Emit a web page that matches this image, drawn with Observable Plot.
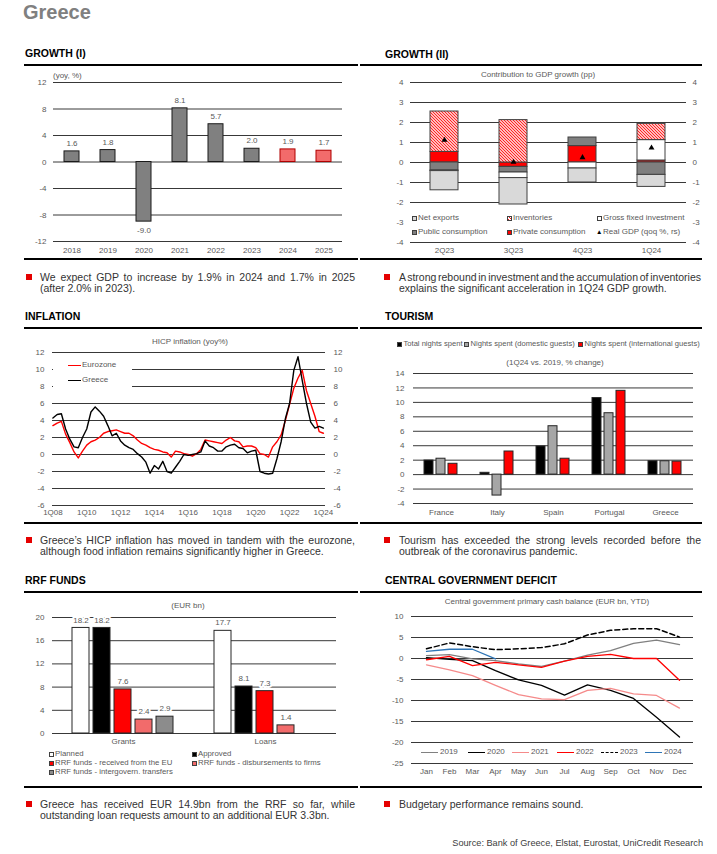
<!DOCTYPE html>
<html><head><meta charset="utf-8">
<script src="https://cdn.jsdelivr.net/npm/d3@7"></script>
<script src="https://cdn.jsdelivr.net/npm/@observablehq/plot@0.6"></script>
<style>
body{margin:0;background:#fff;}
#page{position:relative;width:717px;height:854px;overflow:hidden;font-family:Arial,"Liberation Sans",sans-serif;background:#fff;}
</style></head><body><div id="page"></div>
<script>
// ---------------- DATA ----------------
const gdpYears = ["2018","2019","2020","2021","2022","2023","2024","2025"];
const gdpGrowth = [1.6, 1.8, -9.0, 8.1, 5.7, 2.0, 1.9, 1.7];
const gdpForecastYears = ["2024","2025"];
const gdpTicks = [-12,-8,-4,0,4,8,12];

const contribQuarters = ["2Q23","3Q23","4Q23","1Q24"];
const contribNames = ["Private consumption","Public consumption","Gross fixed investment","Inventories","Net exports"];
const privateConsumption = [0.53,-0.22,0.82,0.10];
const publicConsumption = [-0.40,-0.28,0.43,-0.62];
const grossFixedInvestment = [-0.03,-0.28,-0.30,1.02];
const inventories = [2.02,2.12,0,0.81];
const netExports = [-0.96,-1.32,-0.70,-0.60];
const realGdpQoq = [1.12,0.02,0.25,0.73];
const contribTicks = [-4,-3,-2,-1,0,1,2,3,4];
const contribGrid = [-4,-2,-1,0,1,2,3,4];

const hicpTickLabels = ["1Q08","1Q10","1Q12","1Q14","1Q16","1Q18","1Q20","1Q22","1Q24"];
const hicpGreece = [4.3,4.7,4.8,3.0,1.8,0.9,0.8,2.0,3.0,5.0,5.6,5.1,4.5,3.4,2.2,2.5,
  1.6,1.1,0.8,0.6,0.1,-0.3,-0.9,-2.2,-1.3,-1.7,-0.8,-2.0,-2.2,-1.5,-0.8,0.0,
  -0.1,0.0,0.1,0.3,1.6,1.0,0.8,0.4,0.4,0.9,1.1,1.2,0.8,0.7,0.2,0.4,
  0.5,-2.0,-2.2,-2.3,-2.2,-0.5,1.5,4.2,6.0,9.9,11.5,8.7,6.0,3.8,3.1,3.3,3.1];
const hicpEurozone = [3.4,3.7,3.9,2.4,1.4,0.3,-0.4,0.4,1.1,1.5,1.7,2.0,2.5,2.7,2.8,2.9,
  2.7,2.5,2.5,2.2,1.7,1.3,1.1,0.8,0.6,0.5,0.3,0.2,-0.3,0.4,0.3,0.1,
  0.0,-0.2,0.1,0.6,1.7,1.6,1.5,1.4,1.3,1.7,2.0,1.6,1.5,0.9,1.0,1.0,
  0.8,0.1,0.0,-0.3,0.9,1.5,2.3,4.0,5.9,7.8,9.0,9.9,7.5,6.0,4.5,2.7,2.5];
const hicpTicks = [-6,-4,-2,0,2,4,6,8,10,12];

const tourCountries = ["France","Italy","Spain","Portugal","Greece"];
const tourSeries = ["Total nights spent","Nights spent (domestic guests)","Nights spent (international guests)"];
const totalNights = [1.95,0.25,3.9,10.6,1.85];
const domesticNights = [2.2,-2.9,6.7,8.5,1.85];
const internationalNights = [1.5,3.2,2.2,11.6,1.8];
const tourTicks = [-4,-2,0,2,4,6,8,10,12,14];

const rrfCategories = ["Grants","Loans"];
const rrfSeries = ["Planned","Approved","RRF funds - received from the EU","RRF funds - disbursements to firms","RRF funds - intergovern. transfers"];
const rrfGrants = [18.2,18.2,7.6,2.4,2.9];
const rrfLoans = [17.7,8.1,7.3,1.4];
const rrfTicks = [0,4,8,12,16,20];

const months = ["Jan","Feb","Mar","Apr","May","Jun","Jul","Aug","Sep","Oct","Nov","Dec"];
const balance2019 = [0.7,0.9,-0.1,-0.5,-1.3,-1.9,-0.6,0.8,1.9,3.6,4.4,3.3];
const balance2020 = [0.2,-0.2,-0.5,-2.9,-5.1,-6.4,-8.7,-6.3,-7.6,-9.5,-14.0,-18.7];
const balance2021 = [-1.5,-2.7,-4.1,-6.4,-8.6,-9.6,-9.8,-7.6,-7.1,-8.4,-8.8,-11.8];
const balance2022 = [-0.3,0.5,-1.7,-0.9,-1.5,-2.1,-0.6,0.5,1.0,0.0,0.0,-5.2];
const balance2023 = [2.3,3.7,2.8,2.1,2.3,2.6,3.5,5.6,6.7,7.1,7.1,5.1];
const balance2024 = [1.7,2.2,2.2,-0.1];
const balanceTicks = [-25,-20,-15,-10,-5,0,5,10];

// ---------------- HELPERS ----------------
const page = document.getElementById("page");
const FONT = "Arial, 'Liberation Sans', sans-serif";
const GRID = "#383838";
const LBL = "#595959";
const baseStyle = {fontFamily: FONT, fontSize: "8px", color: LBL, background: "transparent", overflow: "visible"};
const fmtTick = d => String(d);

function el(css, html) {
  const e = document.createElement("div");
  e.style.cssText = "position:absolute;" + css;
  if (html != null) e.innerHTML = html;
  page.appendChild(e);
  return e;
}
function txt(x, y, s, css = "") {
  return el(`left:${x}px;top:${y}px;transform:translateY(-50%);white-space:nowrap;line-height:1;${css}`, s);
}
function ctxt(x, y, s, css = "") {
  return el(`left:${x}px;top:${y}px;transform:translate(-50%,-50%);white-space:nowrap;line-height:1;${css}`, s);
}
function place(svg, left, top, w, h) {
  const d = el(`left:${left}px;top:${top}px;width:${w}px;height:${h}px;`);
  d.appendChild(svg);
  return d;
}
function swatch(x, y, bg, size = 5, border = "#404040") {
  return el(`left:${x}px;top:${y - size / 2}px;width:${size}px;height:${size}px;box-sizing:border-box;border:1px solid ${border};background:${bg};`);
}
function panel(lineX1, lineX2, titleX, titleY, topY, bottomY, title) {
  txt(titleX, titleY, title, "font-weight:bold;font-size:10.5px;color:#000;");
  el(`left:${lineX1}px;top:${topY}px;width:${lineX2 - lineX1}px;height:2px;background:#000;`);
  el(`left:${lineX1}px;top:${bottomY}px;width:${lineX2 - lineX1}px;height:2px;background:#000;`);
}
function bullet(sqX, textX, width, y, lines) {
  el(`left:${sqX}px;top:${y - 3}px;width:6px;height:6px;background:#e50000;`);
  lines.forEach((line, i) => {
    const last = i === lines.length - 1;
    const d = el(`left:${textX}px;top:${y + i * 11.3 - 6}px;height:12px;line-height:12px;font-size:10.5px;color:#333;white-space:nowrap;`);
    const span = document.createElement("span");
    span.textContent = line;
    d.appendChild(span);
    if (!last) {
      const natural = span.getBoundingClientRect().width;
      const spaces = (line.match(/ /g) || []).length;
      if (spaces > 0) span.style.wordSpacing = ((width - natural) / spaces) + "px";
    }
  });
}

// ---------------- PAGE TEXT ----------------
txt(23, 12, "Greece", "font-weight:bold;font-size:20px;color:#808080;");
panel(24, 358, 25, 53, 64, 258, "GROWTH (I)");
panel(360, 702, 385, 54, 64, 258, "GROWTH (II)");
panel(24, 358, 25, 316, 327, 522, "INFLATION");
panel(360, 702, 385, 316, 327, 522, "TOURISM");
panel(24, 358, 25, 580, 591, 786, "RRF FUNDS");
panel(360, 702, 385, 580, 591, 786, "CENTRAL GOVERNMENT DEFICIT");

// ---------------- CHART 1: GROWTH (I) ----------------
const gdpData = gdpYears.map((y, i) => ({year: y, value: gdpGrowth[i], forecast: gdpForecastYears.includes(y)}));
const c1 = Plot.plot({
  width: 334, height: 192, marginLeft: 29, marginRight: 16, marginTop: 16, marginBottom: 17,
  style: baseStyle,
  x: {domain: gdpYears, paddingInner: 0.58, paddingOuter: 0.29},
  y: {domain: [-12, 12]},
  color: {type: "identity"},
  marks: [
    Plot.ruleY(gdpTicks, {stroke: GRID, strokeWidth: 1}),
    Plot.barY(gdpData, {x: "year", y: "value", fill: d => d.forecast ? "#f26b6b" : "#808080", stroke: d => d.forecast ? "#b00000" : "#1a1a1a", strokeWidth: 1}),
    Plot.text(gdpData, {filter: d => d.value >= 0, x: "year", y: "value", text: d => d.value.toFixed(1), dy: -8, fill: LBL, stroke: "white", strokeWidth: 4}),
    Plot.text(gdpData, {filter: d => d.value < 0, x: "year", y: "value", text: d => d.value.toFixed(1), dy: 9, fill: LBL, stroke: "white", strokeWidth: 4}),
    Plot.axisY({ticks: gdpTicks, tickSize: 0, tickPadding: 7, tickFormat: fmtTick, label: null}),
    Plot.axisX({tickSize: 0, tickPadding: 6, label: null})
  ]
});
place(c1, 24, 66, 334, 192);
txt(53, 76, "(yoy, %)", `font-size:8px;color:${LBL};`);

// ---------------- CHART 2: GROWTH (II) ----------------
const contribValues = [privateConsumption, publicConsumption, grossFixedInvestment, inventories, netExports];
const contribColor = {
  "Private consumption": "#ff0000",
  "Public consumption": "#7f7f7f",
  "Gross fixed investment": "#ffffff",
  "Inventories": "url(#hatchInv)",
  "Net exports": "#d9d9d9"
};
const contribData = [];
contribNames.forEach((name, k) => contribQuarters.forEach((q, i) => contribData.push({q, comp: name, value: contribValues[k][i]})));
const realGdpData = contribQuarters.map((q, i) => ({q, value: realGdpQoq[i]}));
const c2 = Plot.plot({
  width: 342, height: 192, marginLeft: 50, marginRight: 16, marginTop: 16, marginBottom: 16,
  style: baseStyle,
  x: {domain: contribQuarters, paddingInner: 0.59, paddingOuter: 0.295},
  y: {domain: [-4, 4]},
  color: {type: "identity"},
  marks: [
    Plot.ruleY(contribGrid, {stroke: GRID, strokeWidth: 1}),
    Plot.barY(contribData, {filter: d => d.value !== 0, x: "q", y: "value", fill: d => contribColor[d.comp], stroke: "#404040", strokeWidth: 1}),
    Plot.dot(realGdpData, {x: "q", y: "value", symbol: "triangle", r: 2.2, fill: "#000", stroke: null}),
    Plot.axisY({ticks: contribTicks, anchor: "left", tickSize: 0, tickPadding: 7, tickFormat: fmtTick, label: null}),
    Plot.axisY({ticks: contribTicks, anchor: "right", tickSize: 0, tickPadding: 6, tickFormat: fmtTick, label: null}),
    Plot.axisX({tickSize: 0, tickPadding: 5, label: null})
  ]
});
{
  const defs = d3.select(c2).insert("defs", ":first-child");
  const pat = defs.append("pattern").attr("id", "hatchInv").attr("patternUnits", "userSpaceOnUse").attr("width", 3).attr("height", 3);
  pat.append("rect").attr("width", 3).attr("height", 3).attr("fill", "#fff");
  pat.append("path").attr("d", "M-1,-1L4,4M-1,2L1,4M2,-1L4,1").attr("stroke", "#ff1a1a").attr("stroke-width", 1.1);
}
place(c2, 360, 66, 342, 192);
ctxt(538, 75, "Contribution to GDP growth (pp)", `font-size:8px;color:${LBL};`);
const hatchCss = "repeating-linear-gradient(45deg,#ff1a1a 0 1px,#fff 1px 2.2px)";
[["Net exports", "#d9d9d9", 412, 218], ["Inventories", hatchCss, 507, 218], ["Gross fixed investment", "#fff", 597, 218],
 ["Public consumption", "#7f7f7f", 412, 232], ["Private consumption", "#ff0000", 507, 232]].forEach(([name, bg, x, y]) => {
  swatch(x, y, bg);
  txt(x + 6, y, name, `font-size:8px;color:${LBL};`);
});
txt(596, 232, "&#9650;", "font-size:6.5px;color:#000;");
txt(603, 232, "Real GDP (qoq %, rs)", `font-size:8px;color:${LBL};`);

// ---------------- CHART 3: INFLATION ----------------
const hicpIndex = hicpGreece.map((_, i) => i);
const c3 = Plot.plot({
  width: 334, height: 192, marginLeft: 28, marginRight: 33, marginTop: 23, marginBottom: 16,
  style: baseStyle,
  x: {domain: [-0.1, 64.5]},
  y: {domain: [-6, 12]},
  marks: [
    Plot.ruleY(hicpTicks, {stroke: GRID, strokeWidth: 1}),
    Plot.lineY(hicpEurozone, {x: hicpIndex, y: hicpEurozone, stroke: "#ff0000", strokeWidth: 1.4}),
    Plot.lineY(hicpGreece, {x: hicpIndex, y: hicpGreece, stroke: "#000", strokeWidth: 1.4}),
    Plot.axisY({ticks: hicpTicks, anchor: "left", tickSize: 0, tickPadding: 8, tickFormat: fmtTick, label: null}),
    Plot.axisY({ticks: hicpTicks, anchor: "right", tickSize: 0, tickPadding: 8, tickFormat: fmtTick, label: null}),
    Plot.axisX({ticks: hicpTickLabels.map((_, i) => i * 8), tickFormat: d => hicpTickLabels[d / 8], tickSize: 0, tickPadding: 4, label: null})
  ]
});
place(c3, 24, 329, 334, 192);
ctxt(190, 342, "HICP inflation (yoy%)", `font-size:8px;color:${LBL};`);
el("left:53px;top:357px;width:79px;height:32px;background:#fff;");
el("left:68px;top:364.5px;width:13px;height:1.4px;background:#ff0000;");
txt(82, 365, "Eurozone", `font-size:8px;color:${LBL};`);
el("left:68px;top:379.5px;width:13px;height:1.4px;background:#000;");
txt(82, 380, "Greece", `font-size:8px;color:${LBL};`);

// ---------------- CHART 4: TOURISM ----------------
const tourValues = [totalNights, domesticNights, internationalNights];
const tourColor = {[tourSeries[0]]: "#000000", [tourSeries[1]]: "#a6a6a6", [tourSeries[2]]: "#ff0000"};
const tourData = [];
tourCountries.forEach((c, i) => tourSeries.forEach((s, k) => tourData.push({country: c, series: s, value: tourValues[k][i]})));
const c4 = Plot.plot({
  width: 342, height: 192, marginLeft: 51, marginRight: 8, marginTop: 44, marginBottom: 18,
  style: baseStyle,
  fx: {domain: tourCountries, padding: 0, label: null, axis: "bottom", tickSize: 0, tickPadding: 6},
  x: {domain: tourSeries, axis: null, paddingInner: 0.21, paddingOuter: 0.83},
  y: {domain: [-4, 14]},
  color: {type: "identity"},
  marks: [
    Plot.ruleY(tourTicks, {stroke: GRID, strokeWidth: 1}),
    Plot.barY(tourData, {fx: "country", x: "series", y: "value", fill: d => tourColor[d.series], stroke: "#262626", strokeWidth: 1}),
    Plot.axisY({ticks: tourTicks, tickSize: 0, tickPadding: 9, tickFormat: fmtTick, label: null})
  ]
});
place(c4, 360, 329, 342, 192);
[[397, 0, "#000"], [464, 1, "#a6a6a6"], [578, 2, "#ff0000"]].forEach(([x, k, bg]) => {
  swatch(x, 344, bg);
  txt(x + 6.5, 344, tourSeries[k], `font-size:7.6px;color:${LBL};`);
});
ctxt(555, 363, "(1Q24 vs. 2019, % change)", `font-size:8px;color:${LBL};`);

// ---------------- CHART 5: RRF FUNDS ----------------
const rrfColor = {[rrfSeries[0]]: "#ffffff", [rrfSeries[1]]: "#000000", [rrfSeries[2]]: "#ff0000", [rrfSeries[3]]: "#f26b6b", [rrfSeries[4]]: "#8c8c8c"};
const rrfData = [];
rrfGrants.forEach((v, k) => rrfData.push({cat: "Grants", series: rrfSeries[k], value: v}));
rrfLoans.forEach((v, k) => rrfData.push({cat: "Loans", series: rrfSeries[k], value: v}));
const c5 = Plot.plot({
  width: 334, height: 192, marginLeft: 28, marginRight: 22, marginTop: 24, marginBottom: 52,
  style: baseStyle,
  fx: {domain: rrfCategories, padding: 0, label: null, axis: "bottom", tickSize: 0, tickPadding: 5},
  x: {domain: rrfSeries, axis: null, paddingInner: 0.18, paddingOuter: 0.82},
  y: {domain: [0, 20]},
  color: {type: "identity"},
  marks: [
    Plot.ruleY(rrfTicks, {stroke: GRID, strokeWidth: 1}),
    Plot.barY(rrfData, {fx: "cat", x: "series", y: "value", fill: d => rrfColor[d.series], stroke: "#262626", strokeWidth: 1}),
    Plot.text(rrfData, {fx: "cat", x: "series", y: "value", text: d => d.value.toFixed(1), dy: -8, fill: LBL, stroke: "white", strokeWidth: 4}),
    Plot.axisY({ticks: rrfTicks, tickSize: 0, tickPadding: 8, tickFormat: fmtTick, label: null})
  ]
});
place(c5, 24, 593, 334, 192);
ctxt(188, 606, "(EUR bn)", `font-size:8px;color:${LBL};`);
[[49, 754, 0], [192, 754, 1], [49, 763, 2], [192, 763, 3], [49, 772, 4]].forEach(([x, y, k]) => {
  swatch(x, y, rrfColor[rrfSeries[k]]);
  txt(x + 6, y, rrfSeries[k], `font-size:7.8px;color:${LBL};`);
});

// ---------------- CHART 6: DEFICIT ----------------
const balSeries = [
  {year: "2019", values: balance2019, stroke: "#808080", dash: null},
  {year: "2020", values: balance2020, stroke: "#000000", dash: null},
  {year: "2021", values: balance2021, stroke: "#f58a8a", dash: null},
  {year: "2022", values: balance2022, stroke: "#ff0000", dash: null},
  {year: "2023", values: balance2023, stroke: "#000000", dash: "5,3"},
  {year: "2024", values: balance2024, stroke: "#2e75b6", dash: null}
];
const c6 = Plot.plot({
  width: 342, height: 192, marginLeft: 51, marginRight: 9, marginTop: 23, marginBottom: 22,
  style: baseStyle,
  x: {type: "point", domain: months, padding: 0.5},
  y: {domain: [-25, 10]},
  marks: [
    Plot.ruleY(balanceTicks, {stroke: GRID, strokeWidth: 1}),
    ...balSeries.map(s => Plot.lineY(s.values, {x: months.slice(0, s.values.length), y: s.values, stroke: s.stroke, strokeWidth: s.dash ? 1.5 : 1.3, strokeDasharray: s.dash})),
    Plot.axisY({ticks: balanceTicks, tickSize: 0, tickPadding: 8, tickFormat: fmtTick, label: null}),
    Plot.axisX({tickSize: 0, tickPadding: 5, label: null})
  ]
});
place(c6, 360, 593, 342, 192);
ctxt(547, 602, "Central government primary cash balance (EUR bn, YTD)", `font-size:8px;color:${LBL};`);
[[421, 0], [468, 1], [512, 2], [557, 3], [601, 4], [645, 5]].forEach(([x, k]) => {
  const s = balSeries[k];
  if (s.dash) {
    el(`left:${x}px;top:751.5px;width:17px;height:0;border-top:1.5px dashed ${s.stroke};`);
  } else {
    el(`left:${x}px;top:751.5px;width:17px;height:1.4px;background:${s.stroke};`);
  }
  txt(x + 19, 752, s.year, `font-size:8px;color:${LBL};`);
});

// ---------------- BULLETS & SOURCE ----------------
bullet(26, 40, 315, 277, ["We expect GDP to increase by 1.9% in 2024 and 1.7% in 2025", "(after 2.0% in 2023)."]);
bullet(384, 399, 302, 277, ["A strong rebound in investment and the accumulation of inventories", "explains the significant acceleration in 1Q24 GDP growth."]);
bullet(26, 40, 315, 540, ["Greece’s HICP inflation has moved in tandem with the eurozone,", "although food inflation remains significantly higher in Greece."]);
bullet(384, 399, 302, 540, ["Tourism has exceeded the strong levels recorded before the", "outbreak of the coronavirus pandemic."]);
bullet(26, 40, 315, 804, ["Greece has received EUR 14.9bn from the RRF so far, while", "outstanding loan requests amount to an additional EUR 3.3bn."]);
bullet(384, 399, 302, 804, ["Budgetary performance remains sound."]);
el(`right:14px;top:837px;font-size:9.2px;color:#404040;white-space:nowrap;line-height:12px;`, "Source: Bank of Greece, Elstat, Eurostat, UniCredit Research");
</script></body></html>
